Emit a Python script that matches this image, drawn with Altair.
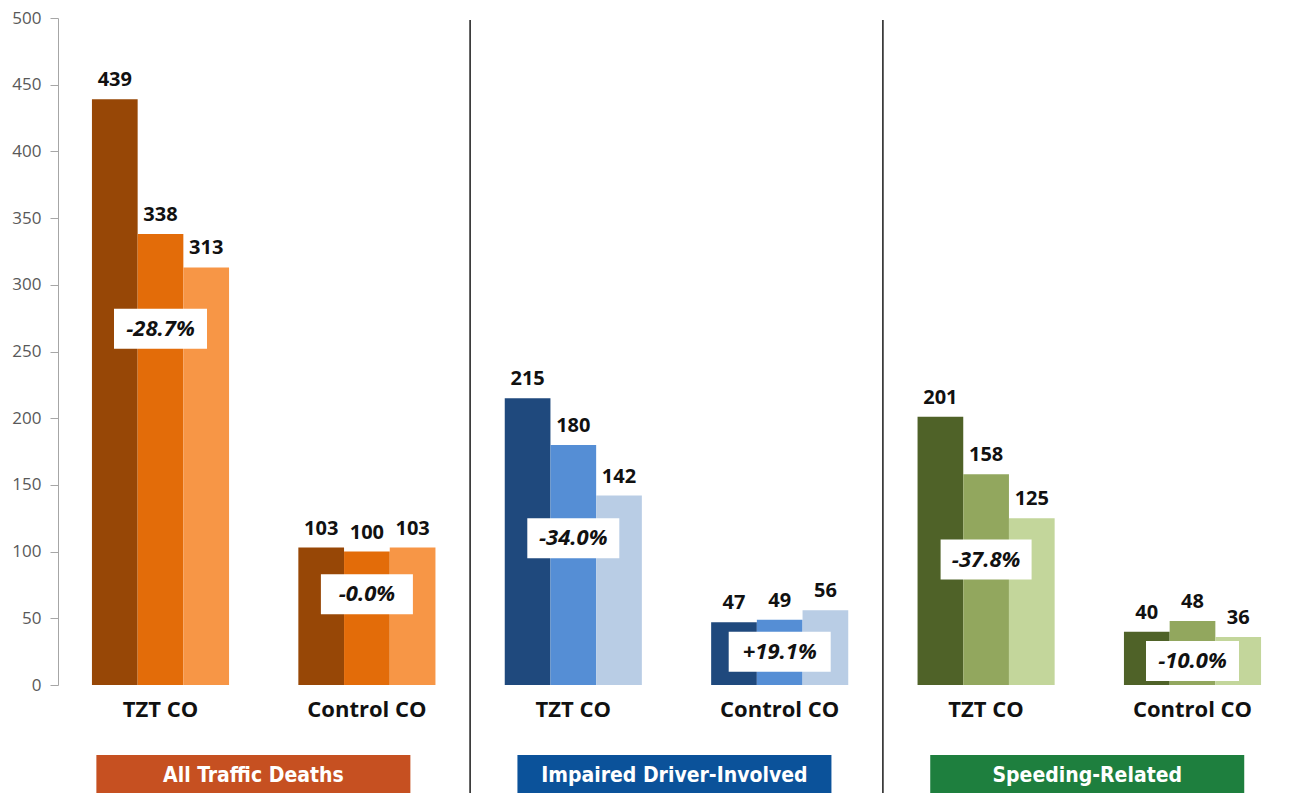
import altair as alt
import pandas as pd

# ---- data -------------------------------------------------------------
panels = ["All Traffic Deaths", "Impaired Driver-Involved", "Speeding-Related"]
groups = ["TZT CO", "Control CO"]

all_tzt = [439, 338, 313]
all_control = [103, 100, 103]
impaired_tzt = [215, 180, 142]
impaired_control = [47, 49, 56]
speeding_tzt = [201, 158, 125]
speeding_control = [40, 48, 36]

change_labels = ["-28.7%", "-0.0%", "-34.0%", "+19.1%", "-37.8%", "-10.0%"]

series = [all_tzt, all_control, impaired_tzt, impaired_control,
          speeding_tzt, speeding_control]

# ---- style / layout ---------------------------------------------------
shades = [
    ["#974706", "#E36C09", "#F79646"],
    ["#1F497D", "#558ED5", "#B9CDE5"],
    ["#4F6228", "#92A75E", "#C3D69B"],
]
banner_colors = ["#C65021", "#0B529A", "#1E7F3E"]

PLOT_W, PLOT_H = 1233, 667
Y_MAX = 500
STEP = 206.4                     # px between group centres
PX_Y = PLOT_H / Y_MAX            # px per unit on the y scale
X0 = -(160.5 - 58) / STEP
X1 = X0 + PLOT_W / STEP
BAR_W = 45.7 / STEP

# vertical centre (value units) and pixel width of each change box
box_centres = [267, 68, 110, 25, 94, 18]
box_widths = [93, 92, 92, 102, 91, 93]
BOX_H = 40

# horizontal centre of each panel banner, in group units
banner_centres = [0.45, 2.49, 4.49]
BANNER_HALF = 157 / STEP

FONT = "Open Sans"
BANNER_FONT = "DejaVu Sans Condensed, Roboto, sans-serif"


def px_down(px):
    """Convert a pixel offset below the zero line into y-scale units."""
    return -px / PX_Y


# ---- tables -----------------------------------------------------------
bar_rows, label_rows = [], []
for g, vals in enumerate(series):
    palette = shades[g // 2]
    for j, v in enumerate(vals):
        cx = g + (j - 1) * BAR_W
        bar_rows.append({"x": cx - BAR_W / 2, "x2": cx + BAR_W / 2,
                         "y": v, "y2": 0, "color": palette[j]})
        label_rows.append({"x": cx, "y": v, "text": str(v)})
bars_df = pd.DataFrame(bar_rows)
labels_df = pd.DataFrame(label_rows)

cat_df = pd.DataFrame({
    "x": list(range(6)),
    "y": [px_down(25)] * 6,
    "text": [groups[g % 2] for g in range(6)],
})

box_df = pd.DataFrame({
    "x": [g - box_widths[g] / 2 / STEP for g in range(6)],
    "x2": [g + box_widths[g] / 2 / STEP for g in range(6)],
    "y": [box_centres[g] - BOX_H / 2 / PX_Y for g in range(6)],
    "y2": [box_centres[g] + BOX_H / 2 / PX_Y for g in range(6)],
    "xc": list(range(6)),
    "yc": box_centres,
    "text": change_labels,
})

sep_df = pd.DataFrame({
    "x": [1.5, 3.5],
    "y": [Y_MAX - 2 / PX_Y] * 2,
    "y2": [px_down(115)] * 2,
})

banner_df = pd.DataFrame({
    "x": [c - BANNER_HALF for c in banner_centres],
    "x2": [c + BANNER_HALF for c in banner_centres],
    "y": [px_down(70)] * 3,
    "y2": [px_down(115)] * 3,
    "xc": banner_centres,
    "yc": [px_down(91)] * 3,
    "text": panels,
    "color": banner_colors,
})

# ---- shared scales / axis ---------------------------------------------
x_scale = alt.Scale(domain=[X0, X1], nice=False, zero=False)
y_scale = alt.Scale(domain=[0, Y_MAX], nice=False)
y_axis = alt.Axis(
    values=list(range(0, 501, 50)), grid=False, title=None,
    domainColor="#A6A6A6", tickColor="#A6A6A6", tickSize=8,
    labelFont=FONT, labelFontSize=17, labelColor="#595959",
    labelPadding=9,
)


def X(field):
    return alt.X(f"{field}:Q", scale=x_scale, axis=None)


def Y(field):
    return alt.Y(f"{field}:Q", scale=y_scale, axis=y_axis)


bars = alt.Chart(bars_df).mark_rect().encode(
    x=X("x"), x2="x2:Q", y=Y("y"), y2="y2:Q",
    color=alt.Color("color:N", scale=None),
)

value_text = alt.Chart(labels_df).mark_text(
    font=FONT, fontSize=20, fontWeight="bold", color="#111111",
    baseline="alphabetic", dy=-13,
).encode(x=X("x"), y=Y("y"), text="text:N")

cat_text = alt.Chart(cat_df).mark_text(
    font=FONT, fontSize=22, fontWeight="bold", color="#111111",
    baseline="middle",
).encode(x=X("x"), y=Y("y"), text="text:N")

boxes = alt.Chart(box_df).mark_rect(color="white").encode(
    x=X("x"), x2="x2:Q", y=Y("y"), y2="y2:Q",
)

box_text = alt.Chart(box_df).mark_text(
    font=FONT, fontSize=22, fontWeight="bold", fontStyle="italic",
    color="#111111", baseline="middle",
).encode(x=X("xc"), y=Y("yc"), text="text:N")

separators = alt.Chart(sep_df).mark_rule(color="#1A1A1A", strokeWidth=1.5).encode(
    x=X("x"), y=Y("y"), y2="y2:Q",
)

banners = alt.Chart(banner_df).mark_rect().encode(
    x=X("x"), x2="x2:Q", y=Y("y"), y2="y2:Q",
    color=alt.Color("color:N", scale=None),
)

banner_text = alt.Chart(banner_df).mark_text(
    font=BANNER_FONT, fontSize=21, fontWeight="bold", color="white",
    baseline="middle",
).encode(x=X("xc"), y=Y("yc"), text="text:N")

chart = alt.layer(
    bars, value_text, cat_text, boxes, box_text, separators, banners, banner_text
).properties(
    width=PLOT_W,
    height=PLOT_H,
    autosize=alt.AutoSizeParams(type="none"),
    padding={"left": 58, "top": 18, "right": 0, "bottom": 108},
    background="white",
).configure_view(stroke=None)

chart.save("out.html", embed_options={"renderer": "svg", "actions": False})
